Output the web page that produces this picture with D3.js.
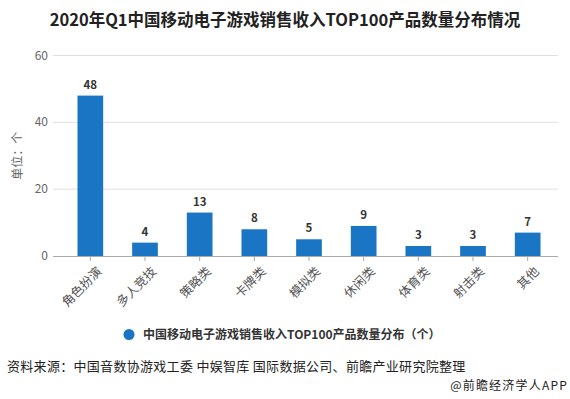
<!DOCTYPE html>
<html>
<head>
<meta charset="utf-8">
<script src="https://cdn.jsdelivr.net/npm/d3@7"></script>
<style>
  body { margin: 0; background: #fff; }
  svg text { font-family: "Microsoft YaHei", "Noto Sans CJK SC", sans-serif; }
</style>
</head>
<body>
<svg id="chart" width="570" height="399"></svg>
<script>
var categories = ['角色扮演', '多人竞技', '策略类', '卡牌类', '模拟类', '休闲类', '体育类', '射击类', '其他'];
var counts = [48, 4, 13, 8, 5, 9, 3, 3, 7];
var yTicks = [0, 20, 40, 60];

var svg = d3.select('#chart');
var barColor = '#1a76c4';

var x = d3.scaleBand()
  .domain(categories)
  .range([63, 555])
  .paddingInner(0.53)
  .paddingOuter(0.265);

var y = d3.scaleLinear()
  .domain([0, 60])
  .range([256, 55.5]);

// title
svg.append('text')
  .attr('x', 285).attr('y', 26)
  .attr('text-anchor', 'middle')
  .style('font-size', '16.5px')
  .style('font-weight', 'bold')
  .style('fill', '#222')
  .text('2020年Q1中国移动电子游戏销售收入TOP100产品数量分布情况');

// grid
svg.append('g').selectAll('line')
  .data(yTicks.slice(1))
  .enter().append('line')
  .attr('x1', 53).attr('x2', 558)
  .attr('y1', function(d) { return y(d); })
  .attr('y2', function(d) { return y(d); })
  .style('stroke', '#e0e0e0');

svg.append('g').selectAll('text')
  .data(yTicks)
  .enter().append('text')
  .attr('x', 48)
  .attr('y', function(d) { return y(d) + 4; })
  .attr('text-anchor', 'end')
  .style('font-size', '12px')
  .style('fill', '#666')
  .text(function(d) { return d; });

svg.append('text')
  .attr('transform', 'translate(22,' + y(30) + ') rotate(-90)')
  .attr('text-anchor', 'middle')
  .style('font-size', '12px')
  .style('fill', '#666')
  .text('单位：个');

// bars
svg.append('g').selectAll('rect')
  .data(counts)
  .enter().append('rect')
  .attr('x', function(d, i) { return x(categories[i]); })
  .attr('width', x.bandwidth())
  .attr('y', function(d) { return y(d); })
  .attr('height', function(d) { return y(0) - y(d); })
  .style('fill', barColor);

svg.append('g').selectAll('text')
  .data(counts)
  .enter().append('text')
  .attr('x', function(d, i) { return x(categories[i]) + x.bandwidth() / 2; })
  .attr('y', function(d) { return y(d) - 7; })
  .attr('text-anchor', 'middle')
  .style('font-size', '11.5px')
  .style('font-weight', 'bold')
  .style('fill', '#333')
  .text(function(d) { return d; });

// x axis
svg.append('line')
  .attr('x1', 53).attr('x2', 558)
  .attr('y1', y(0) + 0.5).attr('y2', y(0) + 0.5)
  .style('stroke', '#aaa');

var xt = svg.append('g').selectAll('g')
  .data(categories)
  .enter().append('g')
  .attr('transform', function(d) { return 'translate(' + (x(d) + x.bandwidth() / 2) + ',' + y(0) + ')'; });

xt.append('line')
  .attr('y1', 0).attr('y2', 5)
  .style('stroke', '#aaa');

xt.append('text')
  .attr('transform', 'translate(6,10) rotate(-45)')
  .attr('text-anchor', 'end')
  .attr('dy', '0.7em')
  .style('font-size', '12.5px')
  .style('fill', '#555')
  .text(function(d) { return d; });

// legend
svg.append('circle')
  .attr('cx', 129).attr('cy', 334.5).attr('r', 5.5)
  .style('fill', barColor);

svg.append('text')
  .attr('x', 143).attr('y', 339)
  .style('font-size', '12px')
  .style('font-weight', 'bold')
  .style('fill', '#333')
  .text('中国移动电子游戏销售收入TOP100产品数量分布（个）');

// footer
svg.append('text')
  .attr('x', 7).attr('y', 371)
  .style('font-size', '13px')
  .style('letter-spacing', '0.3px')
  .style('fill', '#222')
  .text('资料来源：中国音数协游戏工委 中娱智库 国际数据公司、前瞻产业研究院整理');

svg.append('text')
  .attr('x', 568).attr('y', 390)
  .attr('text-anchor', 'end')
  .style('font-size', '12px')
  .style('letter-spacing', '1.2px')
  .style('fill', '#222')
  .text('@前瞻经济学人APP');
</script>
</body>
</html>
